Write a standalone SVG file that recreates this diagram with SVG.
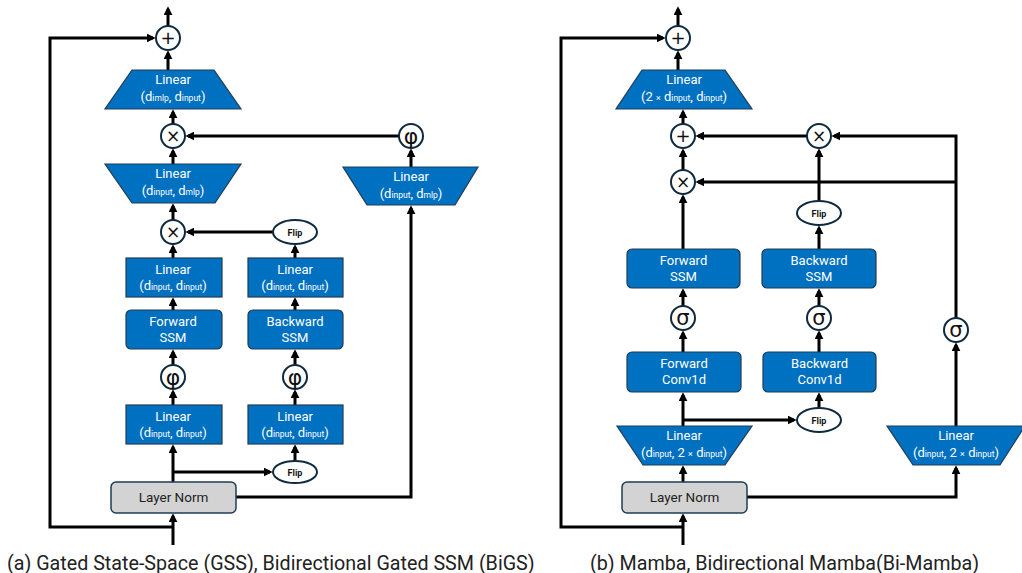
<svg xmlns="http://www.w3.org/2000/svg" width="1022" height="573" viewBox="0 0 1022 573">
<style>
.bl{fill:#0070c0;stroke:#1f3c55;stroke-width:1.2}
.ln{fill:#d3d3d3;stroke:#1f3c55;stroke-width:1.5}
.c{fill:#fff;stroke:#0e2a3c;stroke-width:2}
.a{fill:none;stroke:#000;stroke-width:3}
.t{font-family:Roboto,"Liberation Sans",sans-serif;font-size:13px;fill:#fff;text-anchor:middle}
.s{font-size:8.5px}
.x{font-size:9px}
.k{font-family:Roboto,"Liberation Sans",sans-serif;font-size:13.5px;fill:#222;text-anchor:middle}
.f{font-family:Roboto,"Liberation Sans",sans-serif;font-size:9px;font-weight:bold;fill:#111;text-anchor:middle}
.sym{font-family:"DejaVu Sans",Roboto,sans-serif;fill:#111;text-anchor:middle}
.cap{font-family:Roboto,"Liberation Sans",sans-serif;font-size:19.7px;fill:#222}
</style>
<defs>
<marker id="ah" viewBox="0 0 10 10" refX="7" refY="5" markerWidth="9" markerHeight="9" markerUnits="userSpaceOnUse" orient="auto">
<path d="M0,0 L10,5 L0,10 z" fill="#000"/>
</marker>
</defs>

<g id="connectors">
<!-- left panel -->
<path class="a" d="M168,26 V9" marker-end="url(#ah)"/>
<path class="a" d="M173,527 H50 V38 H153" marker-end="url(#ah)"/>
<path class="a" d="M168,70 V53" marker-end="url(#ah)"/>
<path class="a" d="M173,124 V112" marker-end="url(#ah)"/>
<path class="a" d="M399,136 H188" marker-end="url(#ah)"/>
<path class="a" d="M411,167 V151" marker-end="url(#ah)"/>
<path class="a" d="M173,164 V151" marker-end="url(#ah)"/>
<path class="a" d="M173,220 V206" marker-end="url(#ah)"/>
<path class="a" d="M273,232 H188" marker-end="url(#ah)"/>
<path class="a" d="M173,258 V247" marker-end="url(#ah)"/>
<path class="a" d="M295,258 V247" marker-end="url(#ah)"/>
<path class="a" d="M173,310 V300" marker-end="url(#ah)"/>
<path class="a" d="M295,310 V300" marker-end="url(#ah)"/>
<path class="a" d="M173,365 V352" marker-end="url(#ah)"/>
<path class="a" d="M295,365 V352" marker-end="url(#ah)"/>
<path class="a" d="M173,405 V392" marker-end="url(#ah)"/>
<path class="a" d="M295,405 V392" marker-end="url(#ah)"/>
<path class="a" d="M295,461 V447" marker-end="url(#ah)"/>
<path class="a" d="M173,482 V447" marker-end="url(#ah)"/>
<path class="a" d="M173,472 H270" marker-end="url(#ah)"/>
<path class="a" d="M236,497 H411 V208" marker-end="url(#ah)"/>
<path class="a" d="M173,545 V516" marker-end="url(#ah)"/>
<!-- right panel -->
<path class="a" d="M678,26 V9" marker-end="url(#ah)"/>
<path class="a" d="M683,527 H561 V38 H663" marker-end="url(#ah)"/>
<path class="a" d="M678,70 V53" marker-end="url(#ah)"/>
<path class="a" d="M683,124 V112" marker-end="url(#ah)"/>
<path class="a" d="M807,136 H698" marker-end="url(#ah)"/>
<path class="a" d="M956,318 V136 H834" marker-end="url(#ah)"/>
<path class="a" d="M956,182 H698" marker-end="url(#ah)"/>
<path class="a" d="M683,170 V151" marker-end="url(#ah)"/>
<path class="a" d="M683,249 V197" marker-end="url(#ah)"/>
<path class="a" d="M819,201 V151" marker-end="url(#ah)"/>
<path class="a" d="M819,249 V228" marker-end="url(#ah)"/>
<path class="a" d="M683,306 V291" marker-end="url(#ah)"/>
<path class="a" d="M819,306 V291" marker-end="url(#ah)"/>
<path class="a" d="M683,352 V333" marker-end="url(#ah)"/>
<path class="a" d="M819,352 V333" marker-end="url(#ah)"/>
<path class="a" d="M819,408 V395" marker-end="url(#ah)"/>
<path class="a" d="M683,426 V395" marker-end="url(#ah)"/>
<path class="a" d="M683,420 H794" marker-end="url(#ah)"/>
<path class="a" d="M956,426 V345" marker-end="url(#ah)"/>
<path class="a" d="M683,482 V468" marker-end="url(#ah)"/>
<path class="a" d="M747,497 H956 V468" marker-end="url(#ah)"/>
<path class="a" d="M683,545 V516" marker-end="url(#ah)"/>
</g>

<!-- LEFT PANEL NODES -->
<g id="a-plus"><circle class="c" cx="168" cy="38" r="12"/><text class="sym" x="168" y="44" font-size="18">+</text></g>
<g id="a-linear-out"><polygon class="bl" points="132,70 214,70 241,109 105,109"/>
<text class="t" x="173" y="84">Linear</text>
<text class="t" x="173" y="101">(d<tspan class="s">imlp</tspan>, d<tspan class="s">input</tspan>)</text></g>
<g id="a-mul1"><circle class="c" cx="173" cy="136" r="12"/><text class="sym" x="173" y="142" font-size="17">×</text></g>
<g id="a-phi-gate"><circle class="c" cx="411" cy="136" r="12"/><text class="sym" x="411" y="143.5" font-size="22">φ</text></g>
<g id="a-linear-mlp"><polygon class="bl" points="105,164 241,164 215,203 132,203"/>
<text class="t" x="173" y="178">Linear</text>
<text class="t" x="173" y="195">(d<tspan class="s">input</tspan>, d<tspan class="s">mlp</tspan>)</text></g>
<g id="a-linear-gate"><polygon class="bl" points="343,167 478,167 455,205 367,205"/>
<text class="t" x="411" y="181">Linear</text>
<text class="t" x="411" y="198">(d<tspan class="s">input</tspan>, d<tspan class="s">mlp</tspan>)</text></g>
<g id="a-mul2"><circle class="c" cx="173" cy="232" r="12"/><text class="sym" x="173" y="238" font-size="17">×</text></g>
<g id="a-flip1"><ellipse class="c" cx="295" cy="232" rx="22" ry="12"/><text class="f" x="295" y="235.5">Flip</text></g>
<g id="a-linear-f2"><rect class="bl" x="126" y="258" width="96" height="39"/>
<text class="t" x="173" y="274">Linear</text>
<text class="t" x="173" y="289.5">(d<tspan class="s">input</tspan>, d<tspan class="s">input</tspan>)</text></g>
<g id="a-linear-b2"><rect class="bl" x="248" y="258" width="95" height="39"/>
<text class="t" x="295" y="274">Linear</text>
<text class="t" x="295" y="289.5">(d<tspan class="s">input</tspan>, d<tspan class="s">input</tspan>)</text></g>
<g id="a-fssm"><rect class="bl" x="126" y="310" width="96" height="39" rx="5"/>
<text class="t" x="173" y="326" font-size="13.5">Forward</text>
<text class="t" x="173" y="341.5" font-size="13.5">SSM</text></g>
<g id="a-bssm"><rect class="bl" x="248" y="310" width="95" height="39" rx="5"/>
<text class="t" x="295" y="326" font-size="13.5">Backward</text>
<text class="t" x="295" y="341.5" font-size="13.5">SSM</text></g>
<g id="a-phi-f"><circle class="c" cx="173" cy="377" r="12"/><text class="sym" x="173" y="384.5" font-size="22">φ</text></g>
<g id="a-phi-b"><circle class="c" cx="295" cy="377" r="12"/><text class="sym" x="295" y="384.5" font-size="22">φ</text></g>
<g id="a-linear-f1"><rect class="bl" x="126" y="405" width="96" height="39"/>
<text class="t" x="173" y="421">Linear</text>
<text class="t" x="173" y="436.5">(d<tspan class="s">input</tspan>, d<tspan class="s">input</tspan>)</text></g>
<g id="a-linear-b1"><rect class="bl" x="248" y="405" width="95" height="39"/>
<text class="t" x="295" y="421">Linear</text>
<text class="t" x="295" y="436.5">(d<tspan class="s">input</tspan>, d<tspan class="s">input</tspan>)</text></g>
<g id="a-flip2"><ellipse class="c" cx="295" cy="472" rx="22" ry="11"/><text class="f" x="295" y="475.5">Flip</text></g>
<g id="a-layernorm"><rect class="ln" x="111" y="482" width="125" height="31" rx="5"/><text class="k" x="173.5" y="502">Layer Norm</text></g>
<text class="cap" x="7" y="570">(a) Gated State-Space (GSS), Bidirectional Gated SSM (BiGS)</text>

<!-- RIGHT PANEL NODES -->
<g id="b-plus"><circle class="c" cx="678" cy="38" r="12"/><text class="sym" x="678" y="44" font-size="18">+</text></g>
<g id="b-linear-out"><polygon class="bl" points="642,70 725,70 752,109 616,109"/>
<text class="t" x="684" y="84">Linear</text>
<text class="t" x="684" y="101">(2 <tspan class="x">×</tspan> d<tspan class="s">input</tspan>, d<tspan class="s">input</tspan>)</text></g>
<g id="b-plus2"><circle class="c" cx="683" cy="136" r="12"/><text class="sym" x="683" y="142" font-size="18">+</text></g>
<g id="b-mul-b"><circle class="c" cx="819" cy="136" r="12"/><text class="sym" x="819" y="142" font-size="17">×</text></g>
<g id="b-mul-f"><circle class="c" cx="683" cy="182" r="12"/><text class="sym" x="683" y="188" font-size="17">×</text></g>
<g id="b-flip1"><ellipse class="c" cx="819" cy="213" rx="22" ry="12"/><text class="f" x="819" y="216.5">Flip</text></g>
<g id="b-fssm"><rect class="bl" x="627" y="249" width="113" height="39" rx="5"/>
<text class="t" x="683.5" y="265" font-size="13.5">Forward</text>
<text class="t" x="683.5" y="280.5" font-size="13.5">SSM</text></g>
<g id="b-bssm"><rect class="bl" x="762" y="249" width="114" height="39" rx="5"/>
<text class="t" x="819" y="265" font-size="13.5">Backward</text>
<text class="t" x="819" y="280.5" font-size="13.5">SSM</text></g>
<g id="b-sig-f"><circle class="c" cx="683" cy="318" r="12"/><text class="sym" x="683" y="325" font-size="21">σ</text></g>
<g id="b-sig-b"><circle class="c" cx="819" cy="318" r="12"/><text class="sym" x="819" y="325" font-size="21">σ</text></g>
<g id="b-sig-g"><circle class="c" cx="956" cy="330" r="12"/><text class="sym" x="956" y="337" font-size="21">σ</text></g>
<g id="b-fconv"><rect class="bl" x="627" y="352" width="114" height="40" rx="5"/>
<text class="t" x="684" y="368" font-size="13.5">Forward</text>
<text class="t" x="684" y="384" font-size="13.5">Conv1d</text></g>
<g id="b-bconv"><rect class="bl" x="763" y="352" width="113" height="40" rx="5"/>
<text class="t" x="819.5" y="368" font-size="13.5">Backward</text>
<text class="t" x="819.5" y="384" font-size="13.5">Conv1d</text></g>
<g id="b-flip2"><ellipse class="c" cx="819" cy="420" rx="22" ry="12"/><text class="f" x="819" y="423.5">Flip</text></g>
<g id="b-linear-in"><polygon class="bl" points="617,426 752,426 725,465 643,465"/>
<text class="t" x="684" y="440">Linear</text>
<text class="t" x="684" y="457">(d<tspan class="s">input</tspan>, 2 <tspan class="x">×</tspan> d<tspan class="s">input</tspan>)</text></g>
<g id="b-linear-gate"><polygon class="bl" points="887,426 1025,426 1000,465 913,465"/>
<text class="t" x="956" y="440">Linear</text>
<text class="t" x="956" y="457">(d<tspan class="s">input</tspan>, 2 <tspan class="x">×</tspan> d<tspan class="s">input</tspan>)</text></g>
<g id="b-layernorm"><rect class="ln" x="622" y="482" width="125" height="31" rx="5"/><text class="k" x="684.5" y="502">Layer Norm</text></g>
<text class="cap" x="590" y="570">(b) Mamba, Bidirectional Mamba(Bi-Mamba)</text>
</svg>
